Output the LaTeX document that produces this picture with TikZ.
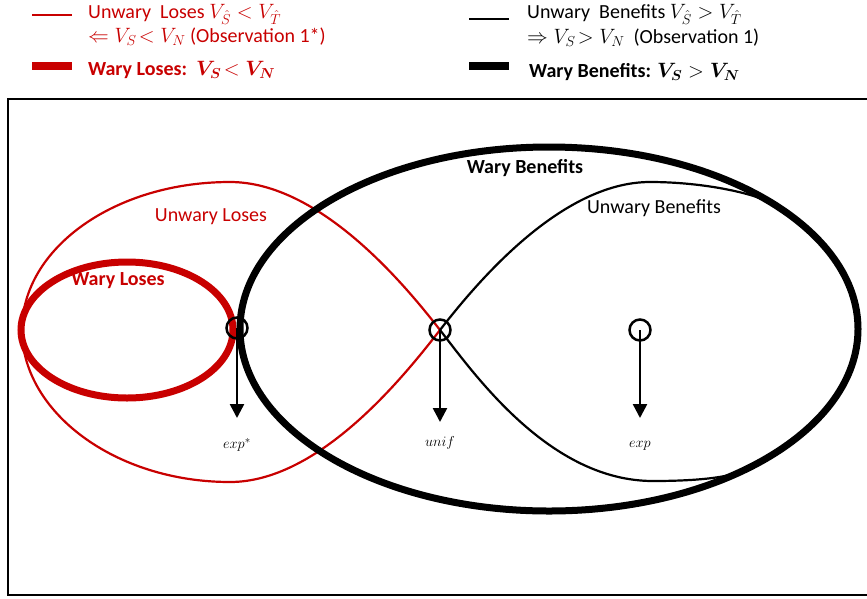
\documentclass[tikz,border=0pt]{standalone}
\usepackage{amsmath}
\usepackage{fontspec}
\setmainfont{Carlito}
\usetikzlibrary{arrows.meta, positioning}
\definecolor{loseRed}{RGB}{200,0,0}
\tikzset{
    every node/.style={font=\fontsize{20}{24}\selectfont}, % text size of all labels
    legend/.style={anchor=base west, inner sep=0pt, text height=14pt, text depth=4pt}, % legend lines start at their base
    thinLose/.style={draw=loseRed, line width=2.2}, % unwary loses
    thinWin/.style={draw=black, line width=2.2}, % unwary benefits
    thickLose/.style={draw=loseRed, line width=7}, % wary loses
    thickWin/.style={draw=black, line width=7}, % wary benefits
    point/.style={circle, draw, line width=2.5, minimum size=21pt, inner sep=0pt}, % the marked equilibria
    pointer/.style={line width=2.5, -{Triangle[width=14pt, length=14pt]}}, % arrows below them
    mathLabel/.style={font=\fontsize{15}{17}\selectfont}, % names of the equilibria
}

\begin{document}
\begin{tikzpicture}[x=1pt, y=-1pt]
    \useasboundingbox (0,0) rectangle (867,598);
    % legend
    \draw[thinLose] (32,15) -- (72,15);
    \draw[thickLose, line width=8] (32,66) -- (72,66);
    \draw[thinWin] (469,19) -- (509,19);
    \draw[thickWin, line width=8] (469,66) -- (509,66);
    \node[legend, text=loseRed] (ulA) at (88,18) {Unwary\ \ Loses $V_{\hat S} < V_{\hat T}$};
    \node[legend, text=loseRed] (ulB) at (88,42) {$\Leftarrow V_S\!< V_N$ (Observation 1*)};
    \node[legend, text=loseRed] (wl) at (88,75) {\bfseries Wary Loses{:}\ \ $\boldsymbol{V_S}\!< \boldsymbol{V_N}$};
    \node[legend] (ubA) at (527,18) {Unwary\ \ Benefits $V_{\hat S} > V_{\hat T}$};
    \node[legend] (ubB) at (527,43) {$\Rightarrow V_S\!> V_N$\ \ (Observation 1)};
    \node[legend] (wb) at (529,77) {\bfseries Wary Benefits{:} $\boldsymbol{V_S} > \boldsymbol{V_N}$};
    % frame
    \draw[line width=2.5] (8,99) rectangle (880,595);
    % unwary loses / benefits
    \draw[thinLose] (440,330) .. controls (405,285) and (320,182) .. (230,182)
        .. controls (115,182) and (22,248) .. (22,330)
        .. controls (22,412) and (115,482) .. (230,482)
        .. controls (320,482) and (405,375) .. (440,330);
    \draw[thinWin] (440,330) .. controls (475,285) and (560,182) .. (650,182)
        .. controls (705,182) and (758,194) .. (775,205)
        .. controls (828,239) and (858,283) .. (858,329)
        .. controls (858,384) and (816,436) .. (743.5,470.4)
        .. controls (730,477) and (700,481) .. (653,481)
        .. controls (550,481) and (475,375) .. (440,330);
    % wary loses / benefits
    \draw[thickLose] (127,330) ellipse [x radius=106pt, y radius=68pt];
    \draw[thickWin] (549,329) ellipse [x radius=309pt, y radius=182pt];
    \node[text=loseRed] (tUL) at (211,217) {Unwary Loses};
    \node[text=loseRed, font=\fontsize{20}{24}\selectfont\bfseries] (tWL) at (118,281) {Wary Loses};
    \node (tUB) at (654,208) {Unwary Benefits};
    \node[font=\fontsize{20}{24}\selectfont\bfseries] (tWB) at (525,168) {Wary Benefits};
    % equilibria
    \node[point] (pExpStar) at (237,328) {};
    \node[point] (pUnif) at (440,330) {};
    \node[point] (pExp) at (640,330) {};
    \coordinate (aExpStar) at (237,418);
    \coordinate (aUnif) at (440,422);
    \coordinate (aExp) at (640,418);
    \draw[pointer] (pExpStar.center) -- (aExpStar);
    \draw[pointer] (pUnif.center) -- (aUnif);
    \draw[pointer] (pExp.center) -- (aExp);
    \node[mathLabel] (lExpStar) at (237,445) {$exp^{*}$};
    \node[mathLabel] (lUnif) at (440,443) {$unif$};
    \node[mathLabel] (lExp) at (640,446) {$exp$};
\end{tikzpicture}
\end{document}
